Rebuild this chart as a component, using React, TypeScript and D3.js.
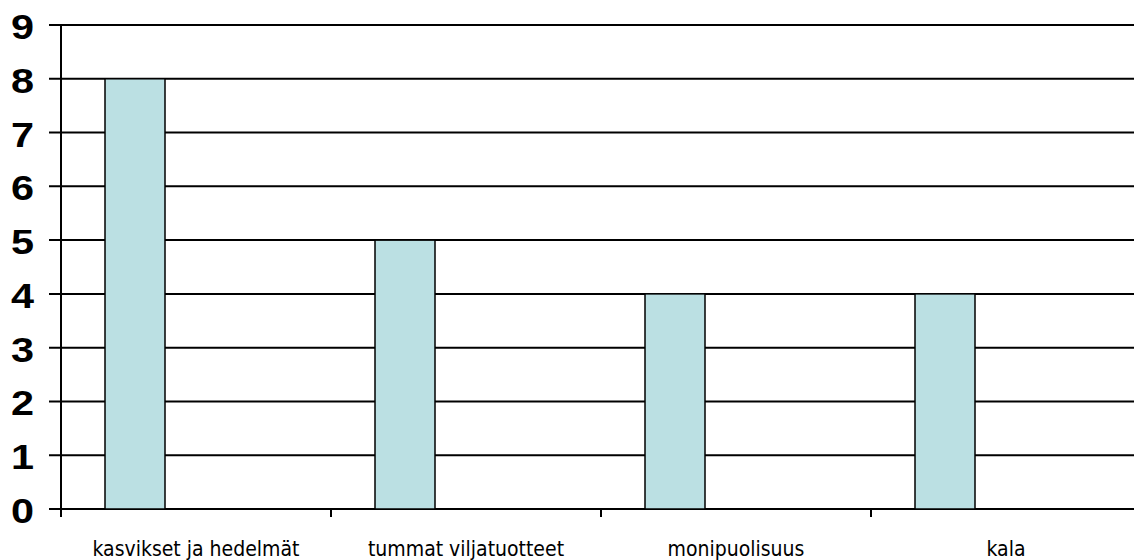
import React from "react";
import * as d3 from "d3";

const categories: string[] = [
  "kasvikset ja hedelmät",
  "tummat viljatuotteet",
  "monipuolisuus",
  "kala",
];
const values: number[] = [8, 5, 4, 4];
const yTicks: number[] = [0, 1, 2, 3, 4, 5, 6, 7, 8, 9];

const W = 1134;
const H = 560;
const left = 61;
const bandW = 270;
const top = 25;
const bottom = 509;

export default function App() {
  const x = d3
    .scaleBand<string>()
    .domain(categories)
    .range([left, left + bandW * categories.length])
    .paddingInner(0)
    .paddingOuter(0);
  const y = d3.scaleLinear().domain([0, 9]).range([bottom, top]);

  const bw = x.bandwidth();
  const barOffset = bw * (44 / 270);
  const barWidth = bw * (60 / 270);

  const boundaries = [...categories.map((c) => x(c) as number), x.range()[1]];

  return (
    <div style={{ position: "absolute", left: 0, top: 0 }}>
      <svg width={W} height={H} style={{ display: "block", background: "#fff" }}>
        {/* gridlines and y ticks */}
        {yTicks.map((t) => (
          <g key={t}>
            <line x1={49} x2={W} y1={y(t)} y2={y(t)} stroke="#000" strokeWidth={2} />
            <text
              transform={`translate(34, ${y(t) + 1}) scale(1.15, 1)`}
              dy="0.36em"
              textAnchor="end"
              fontFamily="'Liberation Sans', Arial, sans-serif"
              fontWeight="bold"
              fontSize={36}
              fill="#000"
            >
              {t}
            </text>
          </g>
        ))}
        {/* bars */}
        {categories.map((c, i) => (
          <rect
            key={c}
            x={(x(c) as number) + barOffset}
            y={y(values[i])}
            width={barWidth}
            height={y(0) - y(values[i])}
            fill="#BBE0E3"
            stroke="#000"
            strokeWidth={1.5}
          />
        ))}
        {/* y axis */}
        <line x1={left} x2={left} y1={top} y2={bottom + 8} stroke="#000" strokeWidth={2} />
        {/* x axis category ticks */}
        {boundaries.map((b, i) => (
          <line key={i} x1={b} x2={b} y1={bottom} y2={bottom + 8} stroke="#000" strokeWidth={2} />
        ))}
        {/* category labels */}
        {categories.map((c) => (
          <text
            key={c}
            x={(x(c) as number) + bw / 2}
            y={556}
            textAnchor="middle"
            fontFamily="'DejaVu Sans Condensed', 'DejaVu Sans', sans-serif"
            fontSize={21}
            fill="#000"
          >
            {c}
          </text>
        ))}
      </svg>
    </div>
  );
}
